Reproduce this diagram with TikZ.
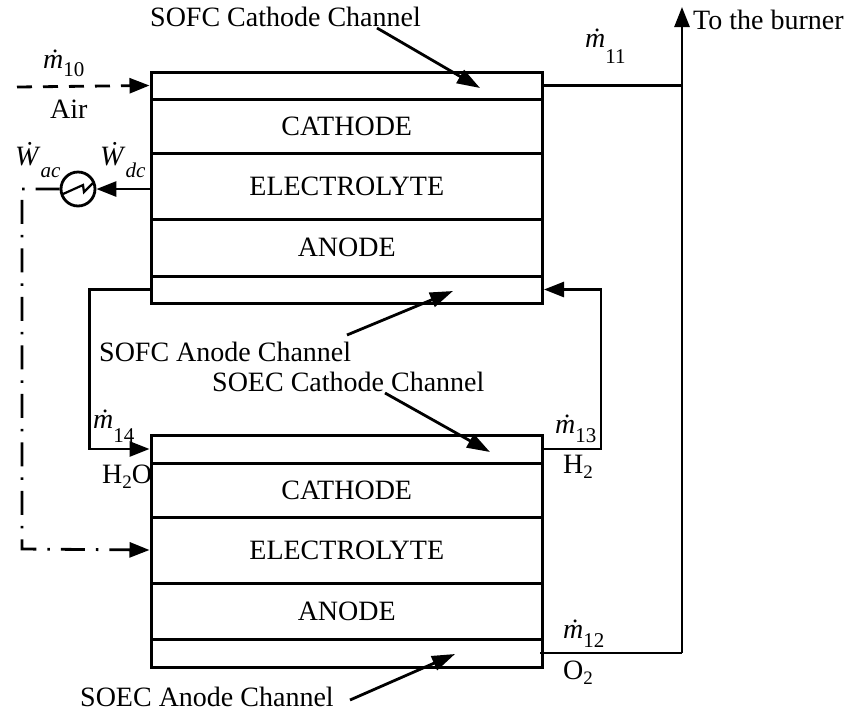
\documentclass[tikz,border=0pt]{standalone}
\usepackage{fontspec}
\setmainfont{Liberation Serif}
\usetikzlibrary{arrows.meta}
\newcommand\mdt[2]{\textit{ṁ}\raisebox{-#2}{\fontsize{21}{21}\selectfont #1}}
\newcommand\wdt[2]{\textit{Ẇ}\raisebox{-#2}{\fontsize{21}{21}\selectfont\textit{#1}}}
\begin{document}
\begin{tikzpicture}[x=1pt,y=-1pt,font=\fontsize{28}{32}\selectfont,
  layer/.style={draw,line width=3pt,minimum width=391.5pt,inner sep=0pt,anchor=center},
  lbl/.style={inner sep=0pt,anchor=base west},
  flow/.style={line width=2.8pt},
  tip/.style={-{Triangle[length=20pt,width=15pt]}},
  ptr/.style={line width=2.8pt,-{Triangle[length=23pt,width=15pt]}},
  airdash/.style={dash pattern=on 15pt off 11pt},
  dashdot/.style={dash pattern=on 24pt off 11pt on 2.5pt off 11pt}]
\useasboundingbox (0,0) rectangle (848,713);
% SOFC stack
\node[layer,minimum height=27pt] (fcc) at (346.75,85.5) {};
\node[layer,minimum height=54pt] (fc) at (346.75,126) {CATHODE};
\node[layer,minimum height=66pt] (fe) at (346.75,186) {ELECTROLYTE};
\node[layer,minimum height=57pt] (fa) at (346.75,247.5) {ANODE};
\node[layer,minimum height=27pt] (fac) at (346.75,289.5) {};
% SOEC stack
\node[layer,minimum height=28pt] (ecc) at (346.75,449) {};
\node[layer,minimum height=54pt] (ec) at (346.75,490) {CATHODE};
\node[layer,minimum height=66pt] (ee) at (346.75,550) {ELECTROLYTE};
\node[layer,minimum height=56pt] (ea) at (346.75,611) {ANODE};
\node[layer,minimum height=28pt] (eac) at (346.75,653) {};
% inverter
\node[draw,circle,line width=2.8pt,minimum size=34pt,inner sep=0pt] (inv) at (78,189) {};
\draw[line width=2.2pt] ([shift={(-15,5)}]inv.center) -- ++(20,-9) -- ++(1,7) -- ++(9,-9);
% coordinates
\coordinate (airstart) at (17,87);
\coordinate (burner) at (682,7);
\coordinate (j12) at (682,653);
\coordinate (dd) at (22,549);
% labels
\node[lbl] (m10) at (43,68) {\mdt{10}{8pt}};
\node[lbl] (air) at (50,118) {Air};
\node[lbl] (m11) at (585,47) {\mdt{11}{16pt}};
\node[lbl] (burn) at (693,29) {To the burner};
\node[lbl] (wac) at (15,165) {\wdt{ac}{12pt}};
\node[lbl] (wdc) at (100,165) {\wdt{dc}{12pt}};
\node[lbl] (m14) at (93,428) {\mdt{14}{14pt}};
\node[lbl] (h2o) at (102,483) {H\raisebox{-5pt}{\fontsize{19}{19}\selectfont 2}O};
\node[lbl] (m13) at (555,433) {\mdt{13}{9pt}};
\node[lbl] (h2) at (563,473) {H\raisebox{-5pt}{\fontsize{19}{19}\selectfont 2}};
\node[lbl] (m12) at (563,638) {\mdt{12}{9pt}};
\node[lbl] (o2) at (563,679) {O\raisebox{-5pt}{\fontsize{19}{19}\selectfont 2}};
\node[lbl] (l1) at (150,26) {SOFC Cathode Channel};
\node[lbl] (l2) at (99,361) {SOFC Anode Channel};
\node[lbl] (l3) at (212,391) {SOEC Cathode Channel};
\node[lbl] (l4) at (80,706) {SOEC Anode Channel};
% pointer arrows
\coordinate (p1s) at (377,28);  \coordinate (p1e) at (480,88);
\coordinate (p2s) at (347,335); \coordinate (p2e) at (453,291);
\coordinate (p3s) at (385,393); \coordinate (p3e) at (490,452);
\coordinate (p4s) at (350,700); \coordinate (p4e) at (455,654);
\draw[ptr] (p1s) -- (p1e);
\draw[ptr] (p2s) -- (p2e);
\draw[ptr] (p3s) -- (p3e);
\draw[ptr] (p4s) -- (p4e);
% flows
\draw[flow,airdash,tip] (airstart) -- (fcc.west);
\draw[flow] (fcc.east) -- (fcc.east -| burner);
\draw[flow] ([xshift=-4pt]eac.east) -- (j12);
\draw[flow,tip] (j12) -- (burner);
\draw[flow,tip] (ecc.east) -- ++(57,0) |- (fac.east);
\draw[flow,tip] (fac.west) -- ++(-60,0) |- (ecc.west);
\draw[flow,tip] (inv -| fe.west) -- (inv.east);
\draw[flow,dashdot,tip] (inv.west) -| (dd) -- (ee.west);
\end{tikzpicture}
\end{document}
